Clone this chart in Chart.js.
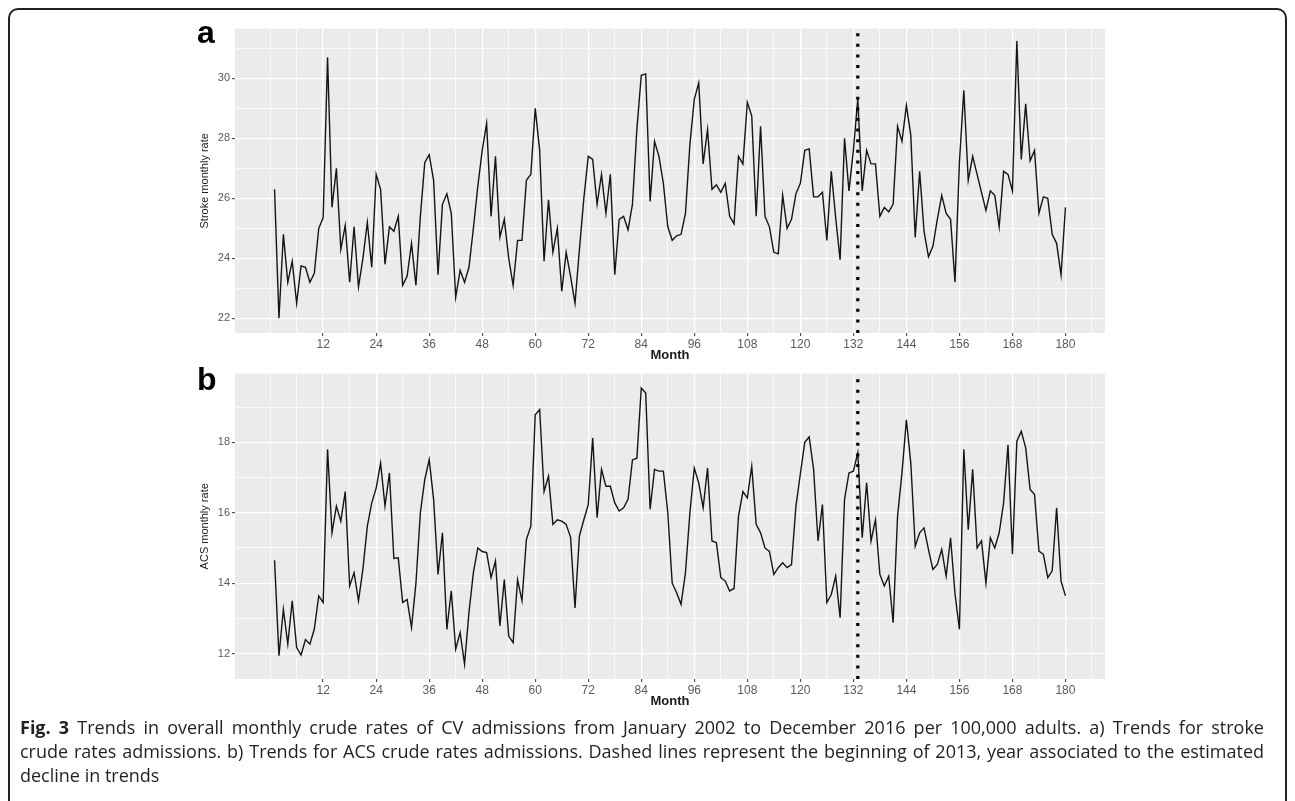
<!DOCTYPE html>
<html>
<head>
<meta charset="utf-8">
<script src="https://cdn.jsdelivr.net/npm/chart.js@4.4.0/dist/chart.umd.min.js"></script>
<style>
html, body { margin: 0; padding: 0; background: #fff; width: 1295px; height: 801px; overflow: hidden; }
#frame { position: absolute; left: 8px; top: 8px; width: 1275px; height: 830px; border: 2px solid #222; border-radius: 10px; }
canvas { position: absolute; }
#caption { position: absolute; left: 20px; top: 715px; width: 1244px; font-family: "Open Sans", "Noto Sans", sans-serif; font-size: 18px; line-height: 24px; color: #231f20; }
#caption .full { white-space: nowrap; text-align: justify; text-align-last: justify; }
</style>
</head>
<body>
<div id="frame"></div>
<canvas id="chartA" width="970" height="350" style="left:150px;top:20px"></canvas>
<canvas id="chartB" width="970" height="351" style="left:150px;top:365px"></canvas>
<div id="caption">
<div class="full"><b>Fig. 3</b> Trends in overall monthly crude rates of CV admissions from January 2002 to December 2016 per 100,000 adults. a) Trends for stroke</div>
<div class="full">crude rates admissions. b) Trends for ACS crude rates admissions. Dashed lines represent the beginning of 2013, year associated to the estimated</div>
<div>decline in trends</div>
</div>
<script>
// -------------------- DATA --------------------
// monthly crude rates per 100,000 adults, Jan 2002 (month 1) .. Dec 2016 (month 180)
const stroke = [
    26.3, 22.0, 24.8, 23.2, 23.9, 22.5, 23.75, 23.7, 23.2, 23.5, 25.0, 25.35,
    30.7, 25.7, 27.0, 24.3, 25.1, 23.2, 25.05, 23.05, 24.0, 25.2, 23.7, 26.8,
    26.3, 23.8, 25.05, 24.9, 25.4, 23.1, 23.4, 24.5, 23.1, 25.4, 27.2, 27.45,
    26.6, 23.45, 25.8, 26.15, 25.5, 22.7, 23.6, 23.2, 23.7, 25.0, 26.4, 27.6,
    28.5, 25.4, 27.4, 24.7, 25.3, 24.0, 23.1, 24.6, 24.6, 26.6, 26.8, 29.0,
    27.6, 23.9, 25.95, 24.2, 25.0, 22.9, 24.2, 23.4, 22.5, 24.3, 26.0, 27.4,
    27.3, 25.8, 26.8, 25.5, 26.8, 23.45, 25.3, 25.4, 24.95, 25.8, 28.3, 30.1,
    30.15, 25.9, 27.9, 27.4, 26.5, 25.05, 24.6, 24.75, 24.8, 25.5, 27.8, 29.3,
    29.85, 27.15, 28.3, 26.3, 26.45, 26.2, 26.5, 25.4, 25.15, 27.4, 27.15, 29.2,
    28.75, 25.4, 28.4, 25.4, 25.05, 24.2, 24.15, 26.1, 25.0, 25.3, 26.15, 26.5,
    27.6, 27.65, 26.05, 26.05, 26.2, 24.6, 26.9, 25.35, 23.95, 28.0, 26.25, 27.6,
    29.3, 26.25, 27.6, 27.15, 27.15, 25.4, 25.7, 25.55, 25.8, 28.4, 27.9, 29.1,
    28.1, 24.7, 26.9, 24.9, 24.05, 24.4, 25.3, 26.1, 25.5, 25.3, 23.2, 27.2,
    29.6, 26.6, 27.4, 26.8, 26.2, 25.6, 26.25, 26.1, 25.05, 26.9, 26.8, 26.25,
    31.25, 27.3, 29.15, 27.25, 27.6, 25.5, 26.05, 26.0, 24.8, 24.5, 23.45, 25.7
];
const acs = [
    14.65, 11.94, 13.26, 12.27, 13.5, 12.17, 11.96, 12.4, 12.27, 12.7, 13.64, 13.45,
    17.8, 15.43, 16.19, 15.76, 16.6, 13.92, 14.3, 13.5, 14.4, 15.62, 16.28, 16.7,
    17.41, 16.19, 17.13, 14.7, 14.72, 13.45, 13.54, 12.74, 14.0, 16.0, 16.94, 17.51,
    16.38, 14.25, 15.43, 12.69, 13.78, 12.13, 12.6, 11.7, 13.17, 14.3, 15.0, 14.9,
    14.87, 14.16, 14.63, 12.79, 14.1, 12.5, 12.31, 14.1, 13.5, 15.24, 15.62, 18.78,
    18.93, 16.6, 17.04, 15.67, 15.8, 15.76, 15.67, 15.3, 13.3, 15.34, 15.8, 16.23,
    18.12, 15.86, 17.23, 16.75, 16.75, 16.28, 16.05, 16.14, 16.38, 17.5, 17.55, 19.54,
    19.4, 16.1, 17.23, 17.18, 17.18, 16.0, 14.0, 13.73, 13.4, 14.3, 16.0, 17.27,
    16.85, 16.14, 17.27, 15.2, 15.15, 14.16, 14.06, 13.78, 13.85, 15.9, 16.6, 16.42,
    17.32, 15.67, 15.43, 15.0, 14.9, 14.25, 14.44, 14.58, 14.44, 14.53, 16.19, 17.1,
    18.0, 18.15, 17.23, 15.2, 16.23, 13.45, 13.68, 14.2, 13.02, 16.38, 17.13, 17.18,
    17.7, 15.29, 16.85, 15.2, 15.8, 14.25, 13.92, 14.2, 12.88, 15.9, 17.13, 18.64,
    17.41, 15.05, 15.43, 15.57, 14.95, 14.39, 14.53, 14.96, 14.2, 15.29, 13.7, 12.69,
    17.8, 15.52, 17.23, 15.0, 15.2, 14.0, 15.29, 15.0, 15.43, 16.28, 17.93, 14.82,
    18.03, 18.31, 17.84, 16.66, 16.52, 14.91, 14.82, 14.16, 14.35, 16.14, 14.06, 13.64
];
const months = stroke.map((_, i) => i + 1);

const xTicks = [12, 24, 36, 48, 60, 72, 84, 96, 108, 120, 132, 144, 156, 168, 180];
const xMinor = [0, 6, 18, 30, 42, 54, 66, 78, 90, 102, 114, 126, 138, 150, 162, 174, 186];
const xLimits = [-7.95, 188.95];

const strokeTicks = [22, 24, 26, 28, 30];
const strokeMinor = [23, 25, 27, 29, 31];
const strokeLimits = [21.51, 31.66];

const acsTicks = [12, 14, 16, 18];
const acsMinor = [13, 15, 17, 19];
const acsLimits = [11.28, 19.95];

const breakMonth = 133; // January 2013

// -------------------- HELPERS --------------------
Chart.defaults.font.family = '"Liberation Sans", Arial, sans-serif';

function tickBuilder(major, minor){
    return scale => {
        scale.ticks = major.concat(minor).sort((a,b)=>a-b).map(v=>({value:v}));
    };
}

function gridFor(major){
    return {
        color: "#ffffff",
        lineWidth: c => major.includes(c.tick?.value) ? 1.3 : 0.7,
        tickColor: c => major.includes(c.tick?.value) ? "#333333" : "rgba(0,0,0,0)",
        tickWidth: 1,
        tickLength: 3,
        drawTicks: true
    };
}

const panelBg = {
    id: "panelBg",
    beforeDraw(chart){
        const {ctx, chartArea: a} = chart;
        ctx.save();
        ctx.fillStyle = "#ebebeb";
        ctx.fillRect(a.left, a.top, a.right - a.left, a.bottom - a.top);
        ctx.restore();
    },
    afterDraw(chart, args, opts){
        const ctx = chart.ctx;
        ctx.save();
        ctx.font = 'bold 32px "Liberation Sans", Arial, sans-serif';
        ctx.fillStyle = "#000";
        ctx.textBaseline = "alphabetic";
        ctx.fillText(opts.letter, 47, opts.baseline);
        ctx.restore();
    }
};

// -------------------- PANELS --------------------
function drawPanel(id, letter, baseline, values, yTitle, yLimits, yMajor, yMinor){
    const ctx = document.getElementById(id).getContext("2d");
    return new Chart(ctx, {
        type: "line",
        data: {
            datasets: [
                {
                    data: [{x: breakMonth, y: yLimits[0]}, {x: breakMonth, y: yLimits[1]}],
                    borderColor: "#000",
                    borderWidth: 3.2,
                    borderDash: [3, 7.6],
                    borderCapStyle: "butt",
                    pointRadius: 0,
                    clip: 0
                },
                {
                    data: months.map((m, i) => ({x: m, y: values[i]})),
                    borderColor: "#151515",
                    borderWidth: 1.4,
                    tension: 0,
                    pointRadius: 0
                }
            ]
        },
        options: {
            responsive: false,
            animation: false,
            devicePixelRatio: 1,
            layout: {padding: {left: 0, right: 15, top: 8, bottom: 0}},
            plugins: {legend: {display: false}, tooltip: {enabled: false}, panelBg: {letter, baseline}},
            scales: {
                x: {
                    type: "linear",
                    min: xLimits[0], max: xLimits[1],
                    afterBuildTicks: tickBuilder(xTicks, xMinor),
                    afterFit: s => { s.height = 37; },
                    border: {display: false},
                    grid: gridFor(xTicks),
                    ticks: {
                        autoSkip: false, maxRotation: 0, padding: 1,
                        color: "#5a5a5a", font: {size: 12},
                        callback: v => xTicks.includes(v) ? String(v) : ""
                    },
                    title: {display: true, text: "Month", color: "#1a1a1a", font: {size: 13, weight: "bold"}, padding: {top: 0, bottom: 7}}
                },
                y: {
                    type: "linear",
                    min: yLimits[0], max: yLimits[1],
                    afterBuildTicks: tickBuilder(yMajor, yMinor),
                    afterFit: s => { s.width = 85; },
                    border: {display: false},
                    grid: gridFor(yMajor),
                    ticks: {
                        autoSkip: false, padding: 2,
                        color: "#5a5a5a", font: {size: 11},
                        callback: v => yMajor.includes(v) ? String(v) : ""
                    },
                    title: {display: true, text: yTitle, color: "#222", font: {size: 11}, padding: {top: 48, bottom: 0}}
                }
            }
        },
        plugins: [panelBg]
    });
}

drawPanel("chartA", "a", 23, stroke, "Stroke monthly rate", strokeLimits, strokeTicks, strokeMinor);
drawPanel("chartB", "b", 25, acs, "ACS monthly rate", acsLimits, acsTicks, acsMinor);
</script>
</body>
</html>
